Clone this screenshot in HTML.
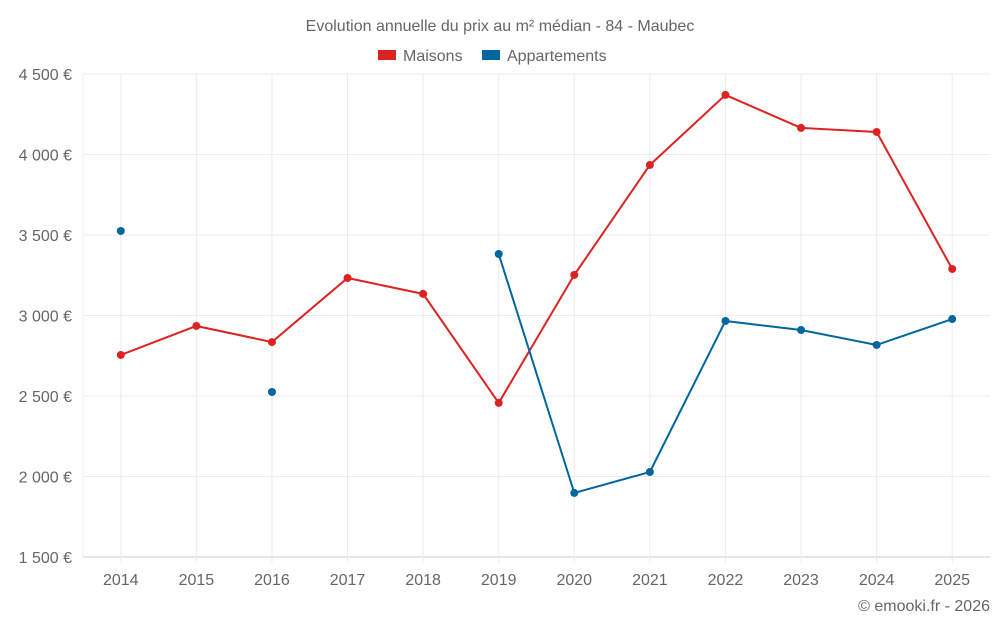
<!DOCTYPE html>
<html><head><meta charset="utf-8"><style>
body{margin:0;background:#fff;font-family:"Liberation Sans",sans-serif}
svg text{font-family:"Liberation Sans",sans-serif;fill:#666}
</style></head><body>
<svg id="c" width="1000" height="625">
<text x="500" y="31" text-anchor="middle" font-size="16">Evolution annuelle du prix au m² médian - 84 - Maubec</text>
<g>
<rect x="378" y="50" width="18" height="10" fill="#dd2222"/>
<text x="403" y="61" font-size="16">Maisons</text>
<rect x="482" y="50" width="18" height="10" fill="#0066a0"/>
<text x="507" y="61" font-size="16">Appartements</text>
</g>
<g id="grid"></g><g id="axes"></g><g id="series"></g>
<text x="990" y="611" text-anchor="end" font-size="16">© emooki.fr - 2026</text>
</svg>
<script>
const years=[2014,2015,2016,2017,2018,2019,2020,2021,2022,2023,2024,2025];
const maisons=[2755,2935,2835,3233,3134,2457,3252,3935,4370,4165,4140,3289];
const appartements=[3525,null,2525,null,null,3382,1898,2028,2966,2910,2817,2978];
const yTicks=[1500,2000,2500,3000,3500,4000,4500];
const yTickLabels=["1 500 €","2 000 €","2 500 €","3 000 €","3 500 €","4 000 €","4 500 €"];
const L=83,R=990,T=74,B=557,yMin=1500,yMax=4500;
const bw=(R-L)/years.length;
const xs=i=>L+bw*(i+0.5);
const ys=v=>B-(v-yMin)/(yMax-yMin)*(B-T);
const NS="http://www.w3.org/2000/svg";
function mk(tag,attrs,parent){const e=document.createElementNS(NS,tag);for(const k in attrs)e.setAttribute(k,attrs[k]);parent.appendChild(e);return e;}
const grid=document.getElementById('grid'),axes=document.getElementById('axes'),ser=document.getElementById('series');
yTicks.forEach((t,i)=>{
 const l=mk('line',{x1:L,x2:R,y1:ys(t),y2:ys(t),stroke:i==0?'#ccc':'#ececec'},grid);
 
 
 const tx=mk('text',{x:72,y:ys(t)+6,'text-anchor':'end','font-size':16},axes);
 tx.textContent=yTickLabels[i];
 
 
});
const la=mk('line',{x1:L,x2:L,y1:T,y2:B,stroke:'#ececec'},grid);


years.forEach((y,i)=>{
 const l=mk('line',{x1:xs(i),x2:xs(i),y1:T,y2:B+6,stroke:'#ececec'},grid);
 
 
 const tx=mk('text',{x:xs(i),y:585,'text-anchor':'middle','font-size':16},axes);
 tx.textContent=y;
 
 
});
function draw(vals,color,name){
 let d='',pen=false;
 vals.forEach((v,i)=>{if(v==null){pen=false;return;}d+=(pen?'L':'M')+xs(i)+' '+ys(v)+' ';pen=true;});
 const p=mk('path',{d:d,fill:'none',stroke:color,'stroke-width':2},ser);
 
 
 vals.forEach((v,i)=>{if(v==null)return;
  const c=mk('circle',{cx:xs(i),cy:ys(v),r:4,fill:color},ser);
  
  
 });
}
draw(maisons,'#dd2222','maisons');
draw(appartements,'#0066a0','appartements');
</script>
</body></html>
